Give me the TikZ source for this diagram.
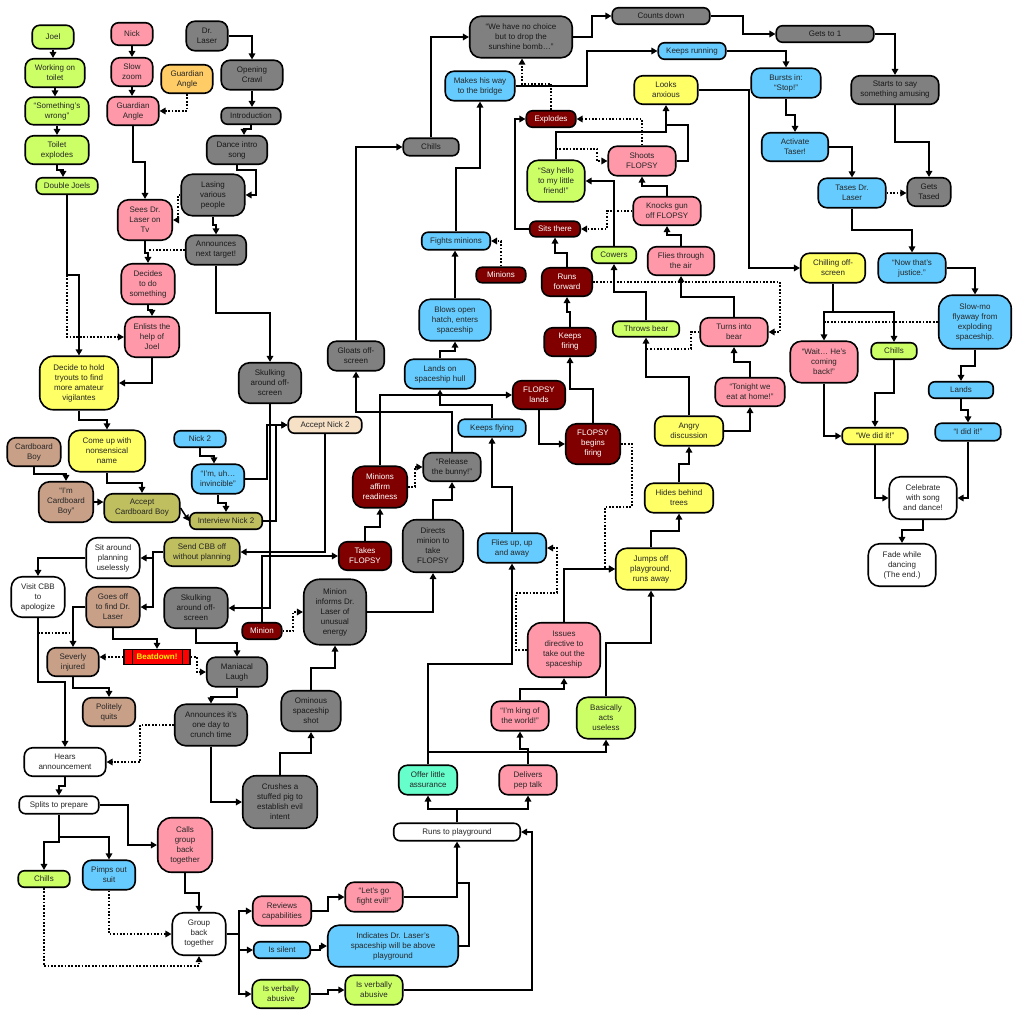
\documentclass[tikz,border=0pt]{standalone}
\usepackage{fontspec}
\setmainfont{Liberation Sans}
\usetikzlibrary{arrows.meta}
\definecolor{cG}{HTML}{CCFF66}
\definecolor{cP}{HTML}{FF99AA}
\definecolor{cY}{HTML}{FFFF66}
\definecolor{cB}{HTML}{66CCFF}
\definecolor{cGr}{HTML}{808080}
\definecolor{cO}{HTML}{FFCC66}
\definecolor{cBr}{HTML}{C8A088}
\definecolor{cOl}{HTML}{BFBF5F}
\definecolor{cDr}{HTML}{800000}
\definecolor{cBe}{HTML}{F6E0C6}
\definecolor{cAq}{HTML}{66FFCC}
\tikzset{
 box/.style={draw=black,line width=1.6pt,align=center,inner sep=1pt,font=\fontsize{8}{10}\selectfont,text=black!85},
 g/.style={fill=cG}, p/.style={fill=cP}, yl/.style={fill=cY}, b/.style={fill=cB},
 gy/.style={fill=cGr,text=black!90}, o/.style={fill=cO}, br/.style={fill=cBr},
 ol/.style={fill=cOl}, dr/.style={fill=cDr,text=white}, be/.style={fill=cBe},
 aq/.style={fill=cAq}, wh/.style={fill=white},
 arr/.style={line width=1.5pt,-{Triangle[length=6pt,width=6.5pt]}},
 dar/.style={arr,dash pattern=on 1.7pt off 1.7pt},
 lin/.style={line width=1.5pt},
 dlin/.style={lin,dash pattern=on 1.7pt off 1.7pt},
 beatbox/.style={draw=black,line width=1.3pt,fill=red,text=yellow,font=\fontsize{8}{10}\selectfont\bfseries,inner sep=1pt}
}
\newcommand{\bx}[7]{\node[box,#6,minimum width={#4pt-1.5pt},minimum height={#5pt-1.5pt},rounded corners={0.2*#5pt+2.5pt}] (#1) at (#2,#3) {#7};}
\begin{document}
\begin{tikzpicture}[x=1pt,y=-1pt]
\fill[white] (0,0) rectangle (1024,1024);
\useasboundingbox (0,0) rectangle (1024,1024);
% nodes
\bx{joel}{53}{37}{43}{25}{g}{Joel}
\bx{work}{55}{73}{61}{30}{g}{Working on\\toilet}
\bx{wrong}{57}{111}{65}{29}{g}{“Something’s\\wrong”}
\bx{texp}{57}{150}{65}{30}{g}{Toilet\\explodes}
\bx{djoel}{67}{186}{63}{18}{g}{Double Joels}
\bx{nick}{132}{34}{43}{24}{p}{Nick}
\bx{slowz}{132}{72}{43}{30}{p}{Slow\\zoom}
\bx{gaor}{187}{79}{53}{30}{o}{Guardian\\Angle}
\bx{gapk}{133}{111}{53}{30}{p}{Guardian\\Angle}
\bx{drl}{207}{36}{43}{31}{gy}{Dr.\\Laser}
\bx{crawl}{252}{75}{63}{31}{gy}{Opening\\Crawl}
\bx{intro}{251}{116}{61}{18}{gy}{Introduction}
\bx{dance}{237}{150}{62}{30}{gy}{Dance intro\\song}
\bx{lasing}{213}{195}{65}{43}{gy}{Lasing\\various\\people}
\bx{sees}{145}{220}{56}{42}{p}{Sees Dr.\\Laser on\\Tv}
\bx{annt}{216}{250}{62}{31}{gy}{Announces\\next target!}
\bx{decides}{148}{284}{55}{42}{p}{Decides\\to do\\something}
\bx{enlists}{152}{337}{56}{42}{p}{Enlists the\\help of\\Joel}
\bx{tryouts}{79}{383}{80}{55}{yl}{Decide to hold\\tryouts to find\\more amateur\\vigilantes}
\bx{comeup}{107}{451}{78}{43}{yl}{Come up with\\nonsensical\\name}
\bx{cbboy}{34}{452}{55}{30}{br}{Cardboard\\Boy}
\bx{imcb}{66}{502}{56}{42}{br}{“I’m\\Cardboard\\Boy”}
\bx{acccb}{142}{508}{77}{30}{ol}{Accept\\Cardboard Boy}
\bx{nick2}{200}{439}{53}{18}{b}{Nick 2}
\bx{invinc}{218}{479}{54}{31}{b}{“I’m, uh…\\invincible”}
\bx{intnick}{226}{521}{74}{18}{ol}{Interview Nick 2}
\bx{skulka}{270}{383}{64}{42}{gy}{Skulking\\around off-\\screen}
\bx{accn}{325}{425}{75}{18}{be}{Accept Nick 2}
\bx{sendcbb}{202}{552}{77}{30}{ol}{Send CBB off\\without planning}
\bx{sitaround}{113}{558}{55}{42}{wh}{Sit around\\planning\\uselessly}
\bx{visit}{38}{597}{55}{42}{wh}{Visit CBB\\to\\apologize}
\bx{goesoff}{113}{607}{55}{42}{br}{Goes off\\to find Dr.\\Laser}
\bx{skulkb}{196}{608}{65}{42}{gy}{Skulking\\around off-\\screen}
\bx{minion}{262}{631}{41}{18}{dr}{Minion}
\bx{minform}{335}{612}{64}{67}{gy}{Minion\\informs Dr.\\Laser of\\unusual\\energy}
\node[beatbox,minimum width=66pt,minimum height=15pt] (beat) at (157,657) {Beatdown!};
\draw[line width=1.3pt] ([xshift=9pt]beat.north west) -- ([xshift=9pt]beat.south west);
\draw[line width=1.3pt] ([xshift=-8pt]beat.north east) -- ([xshift=-8pt]beat.south east);
\bx{severe}{73}{662}{53}{30}{br}{Severly\\injured}
\bx{maniac}{237}{672}{62}{31}{gy}{Maniacal\\Laugh}
\bx{polite}{109}{712}{54}{30}{br}{Politely\\quits}
\bx{crunch}{211}{725}{74}{43}{gy}{Announces it’s\\one day to\\crunch time}
\bx{hears}{65}{762}{83}{30}{wh}{Hears\\announcement}
\bx{crush}{280}{802}{76}{54}{gy}{Crushes a\\stuffed pig to\\establish evil\\intent}
\bx{ominous}{311}{711}{61}{42}{gy}{Ominous\\spaceship\\shot}
\bx{splits}{59}{805}{81}{19}{wh}{Splits to prepare}
\bx{chillsg}{44}{879}{53}{18}{g}{Chills}
\bx{pimps}{109}{875}{54}{31}{b}{Pimps out\\suit}
\bx{calls}{185}{845}{56}{56}{p}{Calls\\group\\back\\together}
\bx{group}{199}{934}{55}{44}{wh}{Group\\back\\together}
\bx{reviews}{282}{911}{60}{31}{p}{Reviews\\capabilities}
\bx{silent}{282}{950}{58}{18}{b}{Is silent}
\bx{verba}{281}{994}{59}{30}{g}{Is verbally\\abusive}
\bx{letsgo}{374}{897}{59}{31}{p}{“Let’s go\\fight evil!”}
\bx{indicates}{393}{946}{132}{43}{b}{Indicates Dr. Laser’s\\spaceship will be above\\playground}
\bx{verbb}{374}{990}{59}{31}{g}{Is verbally\\abusive}
\bx{runs}{457}{832}{128}{19}{wh}{Runs to playground}
\bx{offer}{428}{780}{60}{31}{aq}{Offer little\\assurance}
\bx{pep}{528}{780}{59}{31}{p}{Delivers\\pep talk}
\bx{king}{520}{716}{59}{31}{p}{“I’m king of\\the world!”}
\bx{issues}{564}{650}{74}{56}{p}{Issues\\directive to\\take out the\\spaceship}
\bx{useless}{606}{718}{60}{43}{g}{Basically\\acts\\useless}
\bx{jumps}{651}{569}{72}{43}{yl}{Jumps off\\playground,\\runs away}
\bx{hides}{679}{498}{70}{31}{yl}{Hides behind\\trees}
\bx{fliesup}{512}{548}{70}{31}{b}{Flies up, up\\and away}
\bx{kflying}{492}{428}{69}{19}{b}{Keeps flying}
\bx{lands}{440}{374}{72}{31}{b}{Lands on\\spaceship hull}
\bx{blows}{455}{320}{73}{43}{b}{Blows open\\hatch, enters\\spaceship}
\bx{fights}{456}{241}{70}{19}{b}{Fights minions}
\bx{minions}{501}{275}{51}{17}{dr}{Minions}
\bx{makes}{480}{86}{71}{31}{b}{Makes his way\\to the bridge}
\bx{nochoice}{521}{37}{104}{43}{gy}{“We have no choice\\but to drop the\\sunshine bomb…”}
\bx{chillsgr}{431}{147}{57}{19}{gy}{Chills}
\bx{gloats}{356}{356}{58}{31}{gy}{Gloats off-\\screen}
\bx{counts}{661}{16}{99}{18}{gy}{Counts down}
\bx{getsone}{825}{34}{99}{18}{gy}{Gets to 1}
\bx{starts}{895}{90}{89}{30}{gy}{Starts to say\\something amusing}
\bx{gtased}{929}{192}{45}{30}{gy}{Gets\\Tased}
\bx{krun}{692}{51}{69}{18}{b}{Keeps running}
\bx{bursts}{786}{83}{71}{31}{b}{Bursts in:\\“Stop!”}
\bx{anxious}{666}{90}{65}{30}{yl}{Looks\\anxious}
\bx{activate}{795}{147}{68}{30}{b}{Activate\\Taser!}
\bx{tases}{852}{193}{69}{31}{b}{Tases Dr.\\Laser}
\bx{justice}{912}{268}{69}{31}{b}{“Now that’s\\justice.”}
\bx{slowmo}{975}{322}{74}{55}{b}{Slow-mo\\flyaway from\\exploding\\spaceship.}
\bx{chilling}{833}{268}{66}{31}{yl}{Chilling off-\\screen}
\bx{wait}{824}{362}{69}{43}{p}{“Wait… He’s\\coming\\back!”}
\bx{chillsr}{894}{351}{47}{18}{g}{Chills}
\bx{wedid}{875}{436}{67}{18}{yl}{“We did it!”}
\bx{landsr}{961}{390}{66}{18}{b}{Lands}
\bx{idid}{968}{432}{67}{19}{b}{“I did it!”}
\bx{celeb}{923}{498}{69}{44}{wh}{Celebrate\\with song\\and dance!}
\bx{fade}{902}{565}{69}{44}{wh}{Fade while\\dancing\\(The end.)}
\bx{sayhello}{556}{181}{59}{43}{g}{“Say hello\\to my little\\friend!”}
\bx{shoots}{642}{161}{69}{31}{p}{Shoots\\FLOPSY}
\bx{explodes}{551}{119}{51}{18}{dr}{Explodes}
\bx{sits}{555}{229}{52}{17}{dr}{Sits there}
\bx{knocks}{667}{211}{69}{30}{p}{Knocks gun\\off FLOPSY}
\bx{cowers}{614}{255}{46}{18}{g}{Cowers}
\bx{fliesair}{681}{261}{68}{30}{p}{Flies through\\the air}
\bx{runsfwd}{567}{282}{52}{30}{dr}{Runs\\forward}
\bx{throws}{646}{329}{68}{17}{g}{Throws bear}
\bx{turns}{734}{332}{69}{30}{p}{Turns into\\bear}
\bx{angry}{689}{431}{70}{31}{yl}{Angry\\discussion}
\bx{tonight}{750}{392}{71}{30}{p}{“Tonight we\\eat at home!”}
\bx{kfiring}{570}{342}{53}{30}{dr}{Keeps\\firing}
\bx{flands}{539}{395}{54}{30}{dr}{FLOPSY\\lands}
\bx{fbegins}{593}{444}{56}{42}{dr}{FLOPSY\\begins\\firing}
\bx{affirm}{380}{487}{56}{43}{dr}{Minions\\affirm\\readiness}
\bx{release}{452}{467}{59}{30}{gy}{“Release\\the bunny!”}
\bx{directs}{433}{546}{62}{54}{gy}{Directs\\minion to\\take\\FLOPSY}
\bx{takes}{365}{556}{54}{30}{dr}{Takes\\FLOPSY}
% connectors: left part
\draw[arr] (joel.south) -- (joel |- work.north);
\draw[arr] (work.south) -- (work |- wrong.north);
\draw[arr] (wrong.south) -- (wrong |- texp.north);
\draw[arr] (texp.south) -- (57,170) -- (63,170) -- (63,0 |- djoel.north);
\draw[arr] (nick.south) -- (nick |- slowz.north);
\draw[arr] (slowz.south) -- (slowz |- gapk.north);
\draw[dar] (gaor.south) |- (gapk.east);
\draw[arr] (gapk.south) |- (145,162) -- (sees.north);
\draw[arr] (drl.east) -| (crawl.north);
\draw[arr] (crawl.south) -- (crawl |- intro.north);
\draw[arr] (intro.south) |- (244,129) -- (244,0 |- dance.north);
\draw[arr] (dance.south) |- (256,170) |- (lasing.east);
\draw[dar] (lasing.west) -| (178,205) |- (sees.east);
\draw[arr] (lasing.south) |- (216,225) -- (annt.north);
\draw[arr] (sees.south) |- (148,253) -- (decides.north);
\draw[dlin] (annt.west) -- (148,0 |- annt.west);
\draw[arr] (decides.south) |- (152,310) -- (enlists.north);
\draw[arr] (djoel.south) |- (79,275) -- (tryouts.north);
\draw[dar] (djoel.south |- 0,275) |- (enlists.west);
\draw[arr] (annt.south) |- (270,313) -- (skulka.north);
\draw[arr] (enlists.south) |- (tryouts.east);
\draw[arr] (tryouts.south) |- (107,420) -- (comeup.north);
\draw[arr] (cbboy.south) |- (66,474) -- (imcb.north);
\draw[arr] (imcb.east) -- (acccb.west |- imcb.east);
\draw[arr] (comeup.south) |- (142,483) -- (acccb.north);
\draw[arr] (acccb.east) -- (intnick.west);
\draw[arr] (nick2.south) |- (214,456) -- (214,0 |- invinc.north);
\draw[arr] (invinc.south) |- (226,503) -- (intnick.north);
\draw[arr] (invinc.east) -| (267,425) -- (accn.west);
\draw[arr] (intnick.east) -| (276,425) -- (accn.west);
\draw[arr] (skulka.south) |- (skulkb.east);
\draw[arr] (accn.south) |- (sendcbb.east);
\draw[arr] (sendcbb.west) -- (153,552) |- (sitaround.east);
\draw[arr] (sendcbb.west -| 153,0) |- (goesoff.east);
\draw[arr] (sitaround.west) -| (visit.north);
\draw[arr] (goesoff.west) -| (severe.north);
\draw[arr] (goesoff.south) |- (157,639) -- (beat.north);
\draw[arr] (skulkb.south) |- (237,643) -- (maniac.north);
\draw[dlin] (visit.south |- 0,633) -- (73,633);
\draw[arr] (visit.south) |- (65,682) -- (hears.north);
\draw[dar] (beat.west) -- (severe.east |- beat.west);
\draw[dar] (beat.east) -| (197,672) -- (maniac.west);
\draw[arr] (minion.north) |- (takes.west);
\draw[dar] (minion.east) -| (293,612) -- (minform.west);
\draw[arr] (severe.south) |- (109,688) -- (polite.north);
\draw[arr] (maniac.south) |- (211,697) -- (crunch.north);
\draw[dar] (crunch.west) -| (140,762) -- (hears.east);
\draw[arr] (crunch.south) |- (crush.west);
\draw[arr] (crush.north) |- (311,753) -- (ominous.south);
\draw[arr] (ominous.north) |- (335,668) -- (minform.south);
\draw[arr] (minform.east) -| (directs.south);
\draw[arr] (hears.south) |- (59,786) -- (splits.north);
\draw[arr] (splits.south) -- (59,842) -| (chillsg.north);
\draw[arr] (splits.south |- 0,837) -| (pimps.north);
\draw[arr] (splits.east) -| (128,845) -- (calls.west);
\draw[arr] (calls.south) |- (199,893) -- (group.north);
\draw[dar] (pimps.south) |- (group.west);
\draw[dar] (chillsg.south) |- (199,966) -- (group.south);
\draw[arr] (group.east) -| (239,911) -- (reviews.west);
\draw[arr] (group.east -| 239,0) |- (silent.west);
\draw[arr] (group.east -| 239,0) |- (verba.west);
\draw[arr] (reviews.east) -| (328,897) -- (letsgo.west);
\draw[arr] (silent.east) -| (320,946) -- (indicates.west);
\draw[arr] (verba.east) -| (328,990) -- (verbb.west);
\draw[arr] (letsgo.east) -| (runs.south);
\draw[lin] (indicates.east) -| (469,883) -- (457,883);
\draw[arr] (verbb.east) -| (532,832) -- (runs.east);
\draw[arr] (runs.north) |- (428,809) -- (offer.south);
\draw[arr] (runs.north) |- (528,809) -- (pep.south);
% middle
\draw[arr] (offer.north) |- (512,664) -- (fliesup.south);
\draw[arr] (offer.north |- 0,752) -| (useless.south);
\draw[arr] (pep.north) |- (520,749) -- (king.south);
\draw[arr] (king.north) |- (564,689) -- (issues.south);
\draw[arr] (useless.north) |- (651,643) -- (jumps.south);
\draw[arr] (issues.north) |- (jumps.west);
\draw[dar] (issues.west) -| (516,593) -| (557,548) -- (fliesup.east);
\draw[arr] (fliesup.north) |- (492,487) -- (kflying.south);
\draw[arr] (kflying.north) |- (440,405) -- (lands.south);
\draw[arr] (lands.north) |- (455,351) -- (blows.south);
\draw[arr] (blows.north) -- (blows |- fights.south);
\draw[dar] (minions.north) |- (fights.east);
\draw[arr] (fights.north) |- (480,168) -- (makes.south);
\draw[arr] (makes.east) -| (587,51) -- (krun.west);
\draw[dar] (explodes.north) |- (522,84) -- (nochoice.south -| 522,0);
\draw[arr] (chillsgr.north) |- (nochoice.west);
\draw[arr] (gloats.north) |- (chillsgr.west);
\draw[arr] (nochoice.east) -| (592,16) -- (counts.west);
\draw[arr] (counts.east) -| (743,34) -- (getsone.west);
\draw[arr] (getsone.east) -| (starts.north);
\draw[arr] (starts.south) |- (929,142) -- (gtased.north);
\draw[arr] (krun.east) -| (bursts.north);
\draw[arr] (anxious.east) -| (749,268) -- (chilling.west);
\draw[arr] (bursts.south) |- (795,115) -- (activate.north);
\draw[arr] (activate.east) -| (tases.north);
\draw[dar] (tases.east) -- (gtased.west |- tases.east);
\draw[arr] (tases.south) |- (912,230) -- (justice.north);
\draw[arr] (justice.east) -| (slowmo.north);
\draw[arr] (chilling.south) |- (824,312) -- (wait.north);
\draw[arr] (chilling.south |- 0,312) -| (chillsr.north);
\draw[dlin] (slowmo.west) -- (824,0 |- slowmo.west);
\draw[arr] (wait.south) |- (wedid.west);
\draw[arr] (chillsr.south) |- (875,393) -- (wedid.north);
\draw[arr] (slowmo.south) |- (961,366) -- (landsr.north);
\draw[arr] (landsr.south) |- (968,410) -- (idid.north);
\draw[arr] (wedid.south) |- (celeb.west);
\draw[arr] (idid.south) |- (celeb.east);
\draw[arr] (celeb.south) |- (902,530) -- (fade.north);
\draw[dar] (shoots.north) |- (explodes.east);
\draw[arr] (sayhello.north) |- (666,132) -- (anxious.south);
\draw[lin] (shoots.east) -| (688,125) -- (666,125);
\draw[dar] (sayhello.north |- 0,149) -| (597,161) -- (shoots.west);
\draw[arr] (sits.west) -| (515,119) -- (explodes.west);
\draw[arr] (knocks.north) |- (642,186) -- (shoots.south);
\draw[dar] (knocks.west) -| (607,229) -- (sits.east);
\draw[arr] (cowers.north) |- (sayhello.east);
\draw[arr] (fliesair.north) |- (667,235) -- (knocks.south);
\draw[arr] (runsfwd.north) |- (555,253) -- (sits.south);
\draw[dar] (runsfwd.east) -| (780,332) -- (turns.east);
\draw[arr] (throws.north) |- (614,292) -- (cowers.south);
\draw[arr] (turns.north) |- (681,297) -- (fliesair.south);
\draw[dlin] (turns.west) -| (691,349) -- (646,349);
\draw[arr] (angry.north) |- (646,377) -- (throws.south);
\draw[arr] (angry.east) -| (tonight.south);
\draw[arr] (tonight.north) |- (734,362) -- (turns.south);
\draw[arr] (kfiring.north) |- (567,312) -- (runsfwd.south);
\draw[arr] (flands.south) |- (fbegins.west);
\draw[arr] (fbegins.north) |- (570,389) -- (kfiring.south);
\draw[dar] (fbegins.east) -| (632,507) -| (605,569) -- (jumps.west);
\draw[arr] (takes.north) |- (380,527) -- (affirm.south);
\draw[arr] (affirm.north) |- (flands.west);
\draw[dar] (affirm.east) -| (415,467) -- (release.west);
\draw[arr] (release.north) |- (356,412) -- (gloats.south);
\draw[arr] (directs.north) |- (452,500) -- (release.south);
\draw[arr] (jumps.north) |- (679,531) -- (hides.south);
\draw[arr] (hides.north) |- (689,464) -- (angry.south);
\end{tikzpicture}
\end{document}
